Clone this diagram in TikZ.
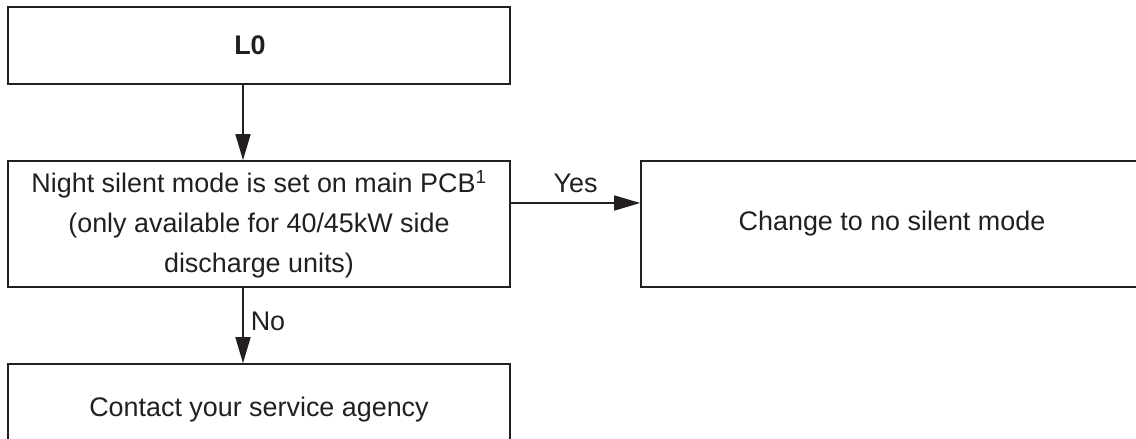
\documentclass[tikz,border=0pt]{standalone}
\usepackage{fontspec}
\setmainfont{Liberation Sans}
\usetikzlibrary{arrows.meta}
\definecolor{ink}{HTML}{231F20}
\begin{document}
\begin{tikzpicture}[x=1bp,y=-1bp,
  box/.style={draw=ink, line width=1.6bp, rectangle, inner sep=0pt},
  txt/.style={text=ink, inner sep=0pt, align=center, font=\fontsize{27}{40}\selectfont},
  arr/.style={draw=ink, line width=1.6bp, -{Triangle[length=26bp,width=15bp]}}]
\useasboundingbox (0,0) rectangle (1136,439);
% boxes
\node[box, minimum width=502bp, minimum height=77bp] (L0) at (259,45.5) {};
\node[box, minimum width=502bp, minimum height=126bp] (cond) at (259,224) {};
\node[box, minimum width=502bp, minimum height=126bp] (chg) at (892,224) {};
\node[box, minimum width=502bp, minimum height=92bp] (svc) at (259,410) {};
% texts
\node[txt, font=\fontsize{27}{40}\selectfont\bfseries] (tL0) at (250,45.5) {L0};
\node[txt] (tcond) at (259,224) {Night silent mode is set on main PCB\textsuperscript{1}\\(only available for 40/45kW side\\discharge units)};
\node[txt] (tchg) at (892,224) {Change to no silent mode};
\node[txt] (tsvc) at (259,410) {Contact your service agency};
% connectors
\coordinate (xa) at (243,0);
\coordinate (ya) at (0,203);
\draw[arr] (L0.south -| xa) -- (cond.north -| xa);
\draw[arr] (cond.east |- ya) -- (chg.west |- ya) node[midway, above=9bp, txt] (yes) {Yes};
\draw[arr] (cond.south -| xa) -- (svc.north -| xa) node[pos=0.45, right=7bp, txt] (no) {No};
\end{tikzpicture}
\end{document}
